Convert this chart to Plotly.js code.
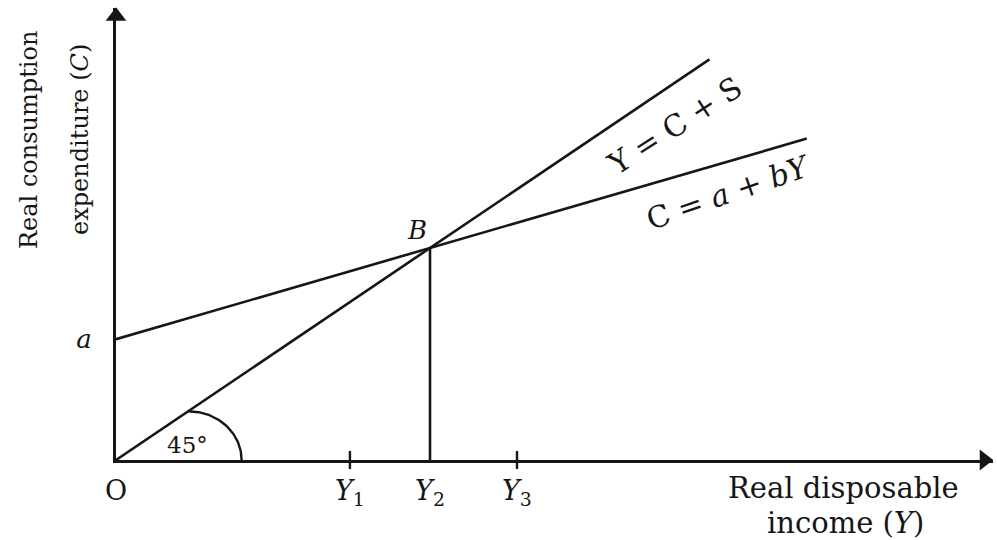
<!DOCTYPE html>
<html><head><meta charset="utf-8">
<script src="https://cdn.plot.ly/plotly-3.0.1.min.js"></script>
<style>html,body{margin:0;padding:0;background:#fff;}#chart{width:997px;height:540px;}</style>
</head><body><div id="chart"></div>
<script>
// ---- data (income units chosen so that Y2 = 100) ----
const tickValues = [0, 74.5, 100, 127.7];
const tickLabels = ['O', '<i>Y</i><sub>1</sub>', '<i>Y</i><sub>2</sub>', '<i>Y</i><sub>3</sub>'];
const lineIncome45 = [0, 189];          // Y = C + S (45-degree line)
const lineValues45 = [0, 189];
const consumptionIncome = [0, 220];     // C = a + bY
const consumptionValues = [57, 151.6];
const autonomousValues = [57];          // a
const autonomousLabels = ['<i>a</i>'];
const equilibriumIncome = [100, 100];   // point B and drop line to Y2
const equilibriumValues = [0, 100];
const markedIncome = [74.5, 127.7];     // tick marks at Y1, Y3
const markedZero = [0, 0];
const axisMax = [279.3, 213.2];
// 45-degree angle arc geometry
const arcCenter = 23, arcRx = 17, arcRy = 23, arcSteps = 40;

const arcX = [], arcY = [];
for (let i = 0; i <= arcSteps; i++) {
  const t = (Math.PI / 2) * i / arcSteps;
  arcX.push(arcCenter + arcRx * Math.sin(t));
  arcY.push(arcRy * Math.cos(t));
}

const ink = '#161616';
const FONT = 'DejaVu Serif, Liberation Serif, serif';
const lineStyle = {color: ink, width: 2.6};

const traces = [
  {x: lineIncome45, y: lineValues45, mode: 'lines', line: lineStyle, hoverinfo: 'skip', showlegend: false},
  {x: consumptionIncome, y: consumptionValues, mode: 'lines', line: lineStyle, hoverinfo: 'skip', showlegend: false},
  {x: equilibriumIncome, y: equilibriumValues, mode: 'lines', line: lineStyle, hoverinfo: 'skip', showlegend: false},
  {x: arcX, y: arcY, mode: 'lines', line: {color: ink, width: 2.4}, hoverinfo: 'skip', showlegend: false},
  {x: markedIncome, y: markedZero, mode: 'markers', cliponaxis: false,
   marker: {symbol: 'line-ns', size: 13, line: {color: ink, width: 2.4}}, hoverinfo: 'skip', showlegend: false},
  // arrowheads at the ends of the axes
  {x: [axisMax[0] * 0.99], y: [0], mode: 'markers', cliponaxis: false,
   marker: {symbol: 'triangle-right', size: 18, color: ink}, hoverinfo: 'skip', showlegend: false},
  {x: [0], y: [axisMax[1] * 0.982], mode: 'markers', cliponaxis: false,
   marker: {symbol: 'triangle-up', size: 18, color: ink}, hoverinfo: 'skip', showlegend: false}
];

function label(x, y, text, size, extra) {
  return Object.assign({x: x, y: y, xref: 'x', yref: 'y', text: text, showarrow: false,
    xanchor: 'center', yanchor: 'middle', font: {family: FONT, size: size, color: ink}}, extra || {});
}
function plabel(x, y, text, size, extra) {
  return label(x, y, text, size, Object.assign({xref: 'paper', yref: 'paper'}, extra || {}));
}

const annotations = [
  label(95.9, 108.5, '<i>B</i>', 26),
  label(22.9, 7.1, '45°', 23),
  label(178, 158, 'Y = C + S', 30, {textangle: -33}),
  label(195, 126, 'C = <i>a</i> + <i>bY</i>', 30, {textangle: -19}),
  plabel(0.829, -0.062, 'Real disposable', 29),
  plabel(0.832, -0.139, 'income (<i>Y</i>)', 29),
  plabel(-0.0992, 0.708, 'Real consumption', 24, {textangle: -90}),
  plabel(-0.041, 0.708, 'expenditure (<i>C</i>)', 24, {textangle: -90})
];

const layout = {
  width: 997, height: 540,
  margin: {l: 116, r: 4, t: 8, b: 80},
  paper_bgcolor: '#fff', plot_bgcolor: '#fff',
  showlegend: false,
  xaxis: {range: [0, axisMax[0]], showgrid: false, zeroline: false,
    showline: true, linecolor: ink, linewidth: 3,
    tickvals: tickValues, ticktext: tickLabels, ticks: '', ticklabelstandoff: 5,
    tickfont: {family: FONT, size: 27, color: ink}, fixedrange: true},
  yaxis: {range: [0, axisMax[1]], showgrid: false, zeroline: false,
    showline: true, linecolor: ink, linewidth: 3,
    tickvals: autonomousValues, ticktext: autonomousLabels, ticks: '', ticklabelstandoff: 16,
    tickfont: {family: FONT, size: 26, color: ink}, fixedrange: true},
  annotations: annotations
};

Plotly.newPlot('chart', traces, layout, {displayModeBar: false, staticPlot: true});
</script>
</body></html>
